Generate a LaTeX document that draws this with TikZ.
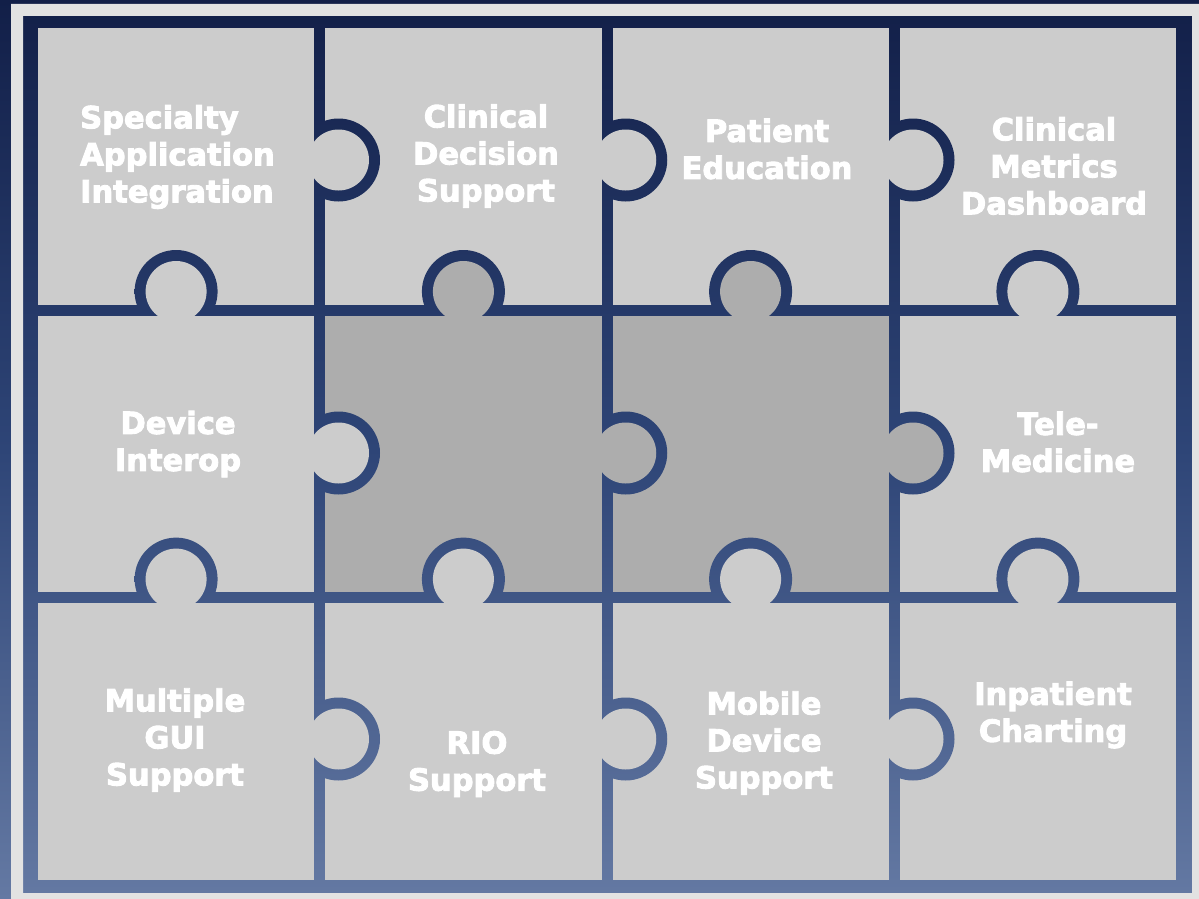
\documentclass[tikz,border=0pt]{standalone}
\usepackage{fontspec}
\setmainfont{DejaVu Sans}
\newfontfamily\heavyfont[UprightFont={* Bold}, FakeBold=3]{DejaVu Sans}
\usepackage{xcolor}
\usepackage{tikz}

\definecolor{navytop}{HTML}{121F48}
\definecolor{navymid}{HTML}{2E4577}
\definecolor{navybot}{HTML}{6479A3}
\definecolor{framegray}{HTML}{E2E2E2}
\definecolor{tilelight}{HTML}{CCCCCC}
\definecolor{tiledark}{HTML}{ADADAD}

\tikzset{
    navyshade/.style={top color=navytop, bottom color=navybot, middle color=navymid},
    piecetext/.style={text=white, font=\heavyfont\fontsize{30.5}{37}\selectfont, align=center, inner sep=0pt}
}

\begin{document}
\begin{tikzpicture}[x=1pt,y=-1pt]
    \useasboundingbox (0,0) rectangle (1199,899);
    \shade[navyshade] (0,0) rectangle (1199,899);
    \fill[framegray,even odd rule] (11,4) rectangle (1199,899) (23,16) rectangle (1192,893);

    \foreach \x in {38,325.25,612.5,899.75}
        \foreach \y in {28,315.7,603.4}
            \fill[tilelight] (\x,\y) rectangle ++(276.25,276.6);
    \fill[tiledark] (325.25,315.7) rectangle (601.5,592.3);
    \fill[tiledark] (612.5,315.7) rectangle (888.75,592.3);

    \begin{scope}
        \clip (176.1,291.5) circle (41.5) (463.4,291.5) circle (41.5)
              (750.6,291.5) circle (41.5) (1037.9,291.5) circle (41.5)
              (176.1,579.1) circle (41.5) (463.4,579.1) circle (41.5)
              (750.6,579.1) circle (41.5) (1037.9,579.1) circle (41.5)
              (338.5,160) circle (41.5) (625.75,160) circle (41.5) (913,160) circle (41.5)
              (338.5,453) circle (41.5) (625.75,453) circle (41.5) (913,453) circle (41.5)
              (338.5,739) circle (41.5) (625.75,739) circle (41.5) (913,739) circle (41.5);
        \shade[navyshade] (0,0) rectangle (1199,899);
    \end{scope}

    \foreach \cx/\cy/\ly/\tone in {176.1/291.5/315.7/tilelight, 463.4/291.5/315.7/tiledark,
            750.6/291.5/315.7/tiledark, 1037.9/291.5/315.7/tilelight,
            176.1/579.1/603.4/tilelight, 463.4/579.1/603.4/tilelight,
            750.6/579.1/603.4/tilelight, 1037.9/579.1/603.4/tilelight} {
        \fill[\tone] (\cx,\cy) circle (30.5);
        \fill[\tone] (\cx-42,\ly) rectangle (\cx+42,\cy+42);
    }
    \foreach \cx/\cy/\lx/\tone in {338.5/160/314.25/tilelight, 338.5/453/314.25/tilelight,
            338.5/739/314.25/tilelight, 625.75/160/601.5/tilelight,
            625.75/453/601.5/tiledark, 625.75/739/601.5/tilelight,
            913/160/888.75/tilelight, 913/453/888.75/tiledark, 913/739/888.75/tilelight} {
        \fill[\tone] (\cx,\cy) circle (30.5);
        \fill[\tone] (\cx-42,\cy-42) rectangle (\lx,\cy+42);
    }

    \node[piecetext,align=left,anchor=west] (specialty) at (80,157) {Specialty\\Application\\Integration};
    \node[piecetext] (decision) at (486,156) {Clinical\\Decision\\Support};
    \node[piecetext] (education) at (767,149) {Patient\\Education};
    \node[piecetext] (metrics) at (1054,166) {Clinical\\Metrics\\Dashboard};
    \node[piecetext] (interop) at (178,444) {Device\\Interop};
    \node[piecetext] (telemed) at (1058,442) {Tele-\\Medicine};
    \node[piecetext] (gui) at (175,740) {Multiple\\GUI\\Support};
    \node[piecetext] (rio) at (477,764) {RIO\\Support};
    \node[piecetext] (mobile) at (764,743) {Mobile\\Device\\Support};
    \node[piecetext] (charting) at (1053,715) {Inpatient\\Charting};
\end{tikzpicture}
\end{document}
